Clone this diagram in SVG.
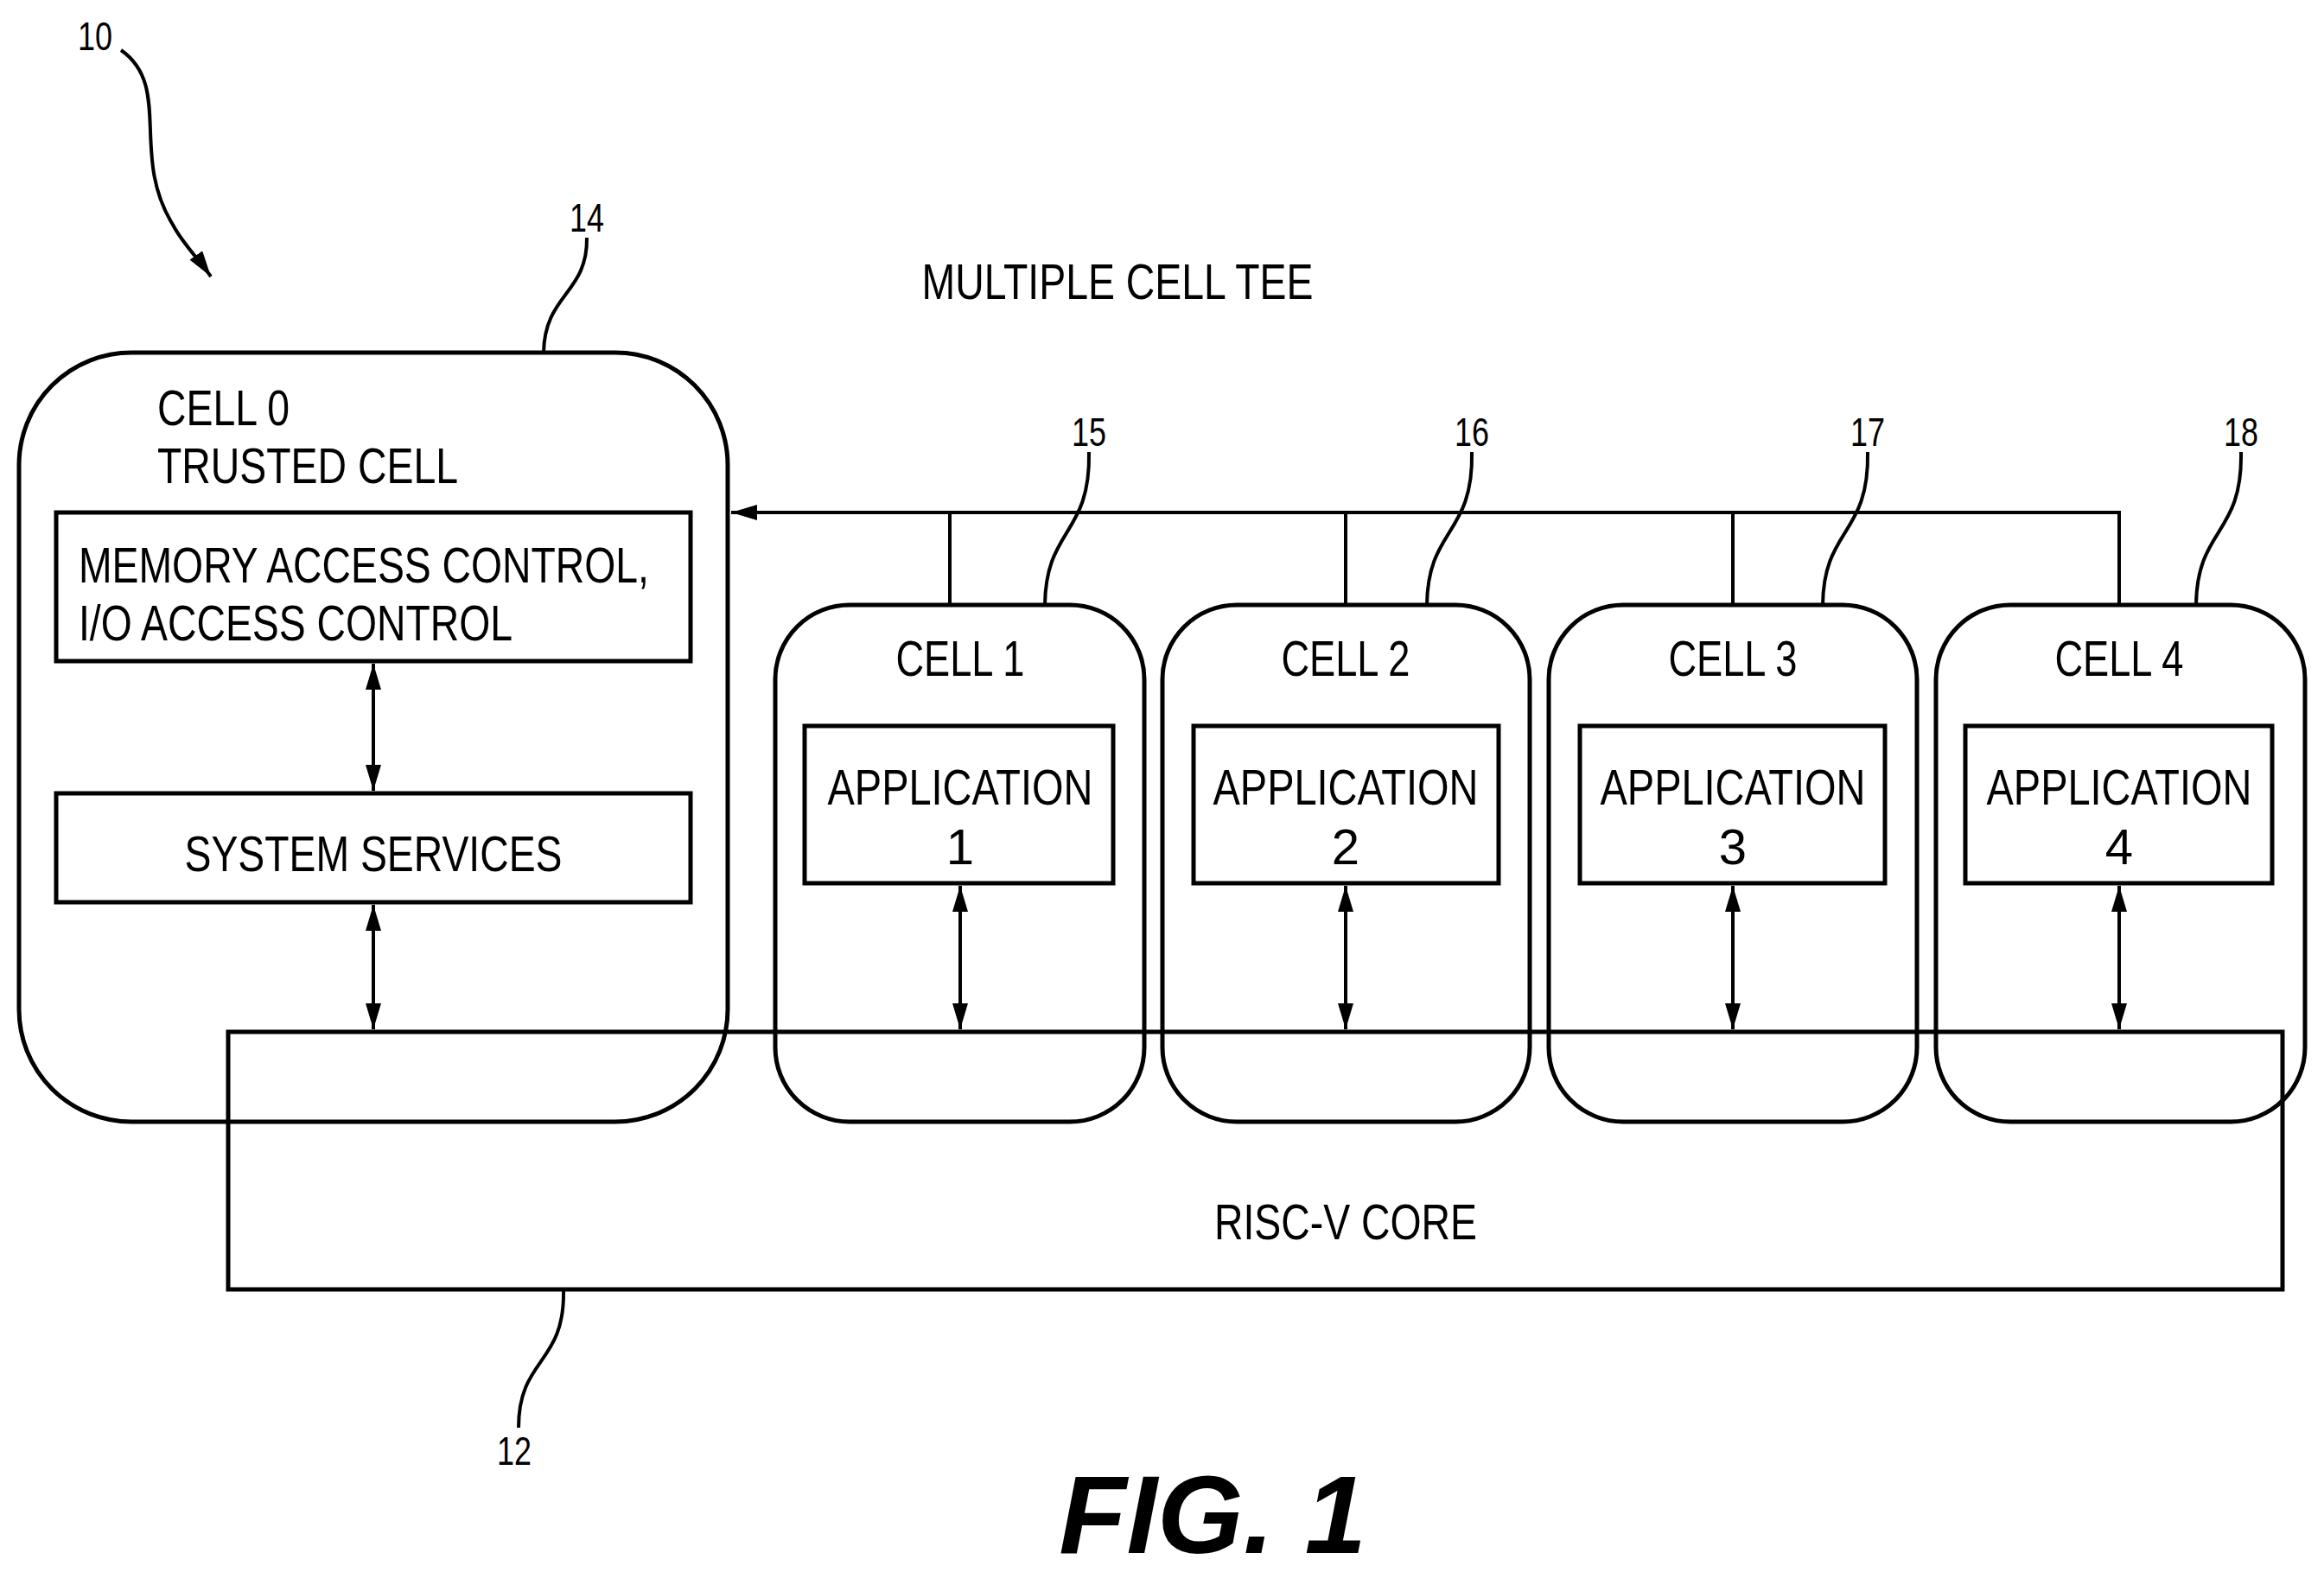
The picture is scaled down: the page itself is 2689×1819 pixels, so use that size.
<svg xmlns="http://www.w3.org/2000/svg" width="2689" height="1819" viewBox="0 0 2689 1819">
<style>
text{font-family:"Liberation Sans",Arial,sans-serif;font-size:58px;fill:#000}
.c{text-anchor:middle}
.n{font-size:46px}
.b{fill:none;stroke:#000;stroke-width:5}
.l{fill:none;stroke:#000;stroke-width:4}
</style>
<defs>
<marker id="a" viewBox="0 0 10 10" refX="10" refY="5" markerWidth="30" markerHeight="18" markerUnits="userSpaceOnUse" orient="auto-start-reverse" preserveAspectRatio="none"><path d="M0,0L10,5L0,10z" fill="#000"/></marker>
</defs>
<rect width="2689" height="1819" fill="#fff"/>
<g id="core"><rect class="b" x="264" y="1194" width="2377" height="298"/><text class="c" x="1557" y="1434" textLength="304" lengthAdjust="spacingAndGlyphs">RISC-V CORE</text></g>
<g id="cell0"><rect class="b" x="22" y="408" width="820" height="890" rx="130"/>
<text x="182" y="492" textLength="153" lengthAdjust="spacingAndGlyphs">CELL 0</text><text x="182" y="559" textLength="348" lengthAdjust="spacingAndGlyphs">TRUSTED CELL</text></g>
<g id="mem"><rect class="b" x="65" y="593" width="734" height="172"/><text x="91" y="674" textLength="660" lengthAdjust="spacingAndGlyphs">MEMORY ACCESS CONTROL,</text><text x="91" y="741" textLength="502" lengthAdjust="spacingAndGlyphs">I/O ACCESS CONTROL</text></g>
<g id="sys"><rect class="b" x="65" y="918" width="734" height="126"/><text class="c" x="432" y="1008" textLength="437" lengthAdjust="spacingAndGlyphs">SYSTEM SERVICES</text></g>
<g id="cell1"><rect class="b" x="897" y="700" width="427" height="598" rx="86"/><text class="c" x="1111" y="782" textLength="149" lengthAdjust="spacingAndGlyphs">CELL 1</text>
<rect class="b" x="931" y="840" width="357" height="182"/><text class="c" x="1111" y="931" textLength="307" lengthAdjust="spacingAndGlyphs">APPLICATION</text><text class="c" x="1111" y="1000">1</text></g>
<g id="cell2"><rect class="b" x="1345" y="700" width="425" height="598" rx="86"/><text class="c" x="1557" y="782" textLength="149" lengthAdjust="spacingAndGlyphs">CELL 2</text>
<rect class="b" x="1381" y="840" width="353" height="182"/><text class="c" x="1557" y="931" textLength="307" lengthAdjust="spacingAndGlyphs">APPLICATION</text><text class="c" x="1557" y="1000">2</text></g>
<g id="cell3"><rect class="b" x="1792" y="700" width="426" height="598" rx="86"/><text class="c" x="2005" y="782" textLength="149" lengthAdjust="spacingAndGlyphs">CELL 3</text>
<rect class="b" x="1828" y="840" width="353" height="182"/><text class="c" x="2005" y="931" textLength="307" lengthAdjust="spacingAndGlyphs">APPLICATION</text><text class="c" x="2005" y="1000">3</text></g>
<g id="cell4"><rect class="b" x="2240" y="700" width="427" height="598" rx="86"/><text class="c" x="2452" y="782" textLength="149" lengthAdjust="spacingAndGlyphs">CELL 4</text>
<rect class="b" x="2274" y="840" width="355" height="182"/><text class="c" x="2452" y="931" textLength="307" lengthAdjust="spacingAndGlyphs">APPLICATION</text><text class="c" x="2452" y="1000">4</text></g>
<g id="connectors">
<path class="l" d="M2452,700V593H846" marker-end="url(#a)"/>
<path class="l" d="M1099,593V700M1557,593V700M2005,593V700"/>
<path class="l" d="M432,768V915" marker-start="url(#a)" marker-end="url(#a)"/>
<path class="l" d="M432,1047V1191" marker-start="url(#a)" marker-end="url(#a)"/>
<path class="l" d="M1111,1025V1191" marker-start="url(#a)" marker-end="url(#a)"/>
<path class="l" d="M1557,1025V1191" marker-start="url(#a)" marker-end="url(#a)"/>
<path class="l" d="M2005,1025V1191" marker-start="url(#a)" marker-end="url(#a)"/>
<path class="l" d="M2452,1025V1191" marker-start="url(#a)" marker-end="url(#a)"/>
</g>
<g id="leaders">
<path class="l" d="M679,275C680,340 630,340 629,408"/>
<path class="l" d="M1260,523C1262,620 1210,610 1209,700"/>
<path class="l" d="M1703,523C1705,620 1652,610 1651,700"/>
<path class="l" d="M2161,523C2163,620 2110,610 2109,700"/>
<path class="l" d="M2593,523C2595,620 2542,610 2541,700"/>
<path class="l" d="M652,1492C654,1580 600,1570 600,1652"/>
<path class="l" d="M140,58C200,100 150,180 200,260 210,280 230,300 244,320" marker-end="url(#a)"/>
</g>
<g id="labels">
<text class="c" x="1293" y="346" textLength="453" lengthAdjust="spacingAndGlyphs">MULTIPLE CELL TEE</text>
<text class="n" x="90" y="58" textLength="40" lengthAdjust="spacingAndGlyphs">10</text>
<text class="n c" x="679" y="268" textLength="40" lengthAdjust="spacingAndGlyphs">14</text>
<text class="n c" x="1260" y="516" textLength="40" lengthAdjust="spacingAndGlyphs">15</text>
<text class="n c" x="1703" y="516" textLength="40" lengthAdjust="spacingAndGlyphs">16</text>
<text class="n c" x="2161" y="516" textLength="40" lengthAdjust="spacingAndGlyphs">17</text>
<text class="n c" x="2593" y="516" textLength="40" lengthAdjust="spacingAndGlyphs">18</text>
<text class="n c" x="595" y="1695" textLength="40" lengthAdjust="spacingAndGlyphs">12</text>
<text class="c" x="1403" y="1797" style="font-size:128px;font-weight:bold;font-style:italic">FIG. 1</text>
</g>
</svg>
